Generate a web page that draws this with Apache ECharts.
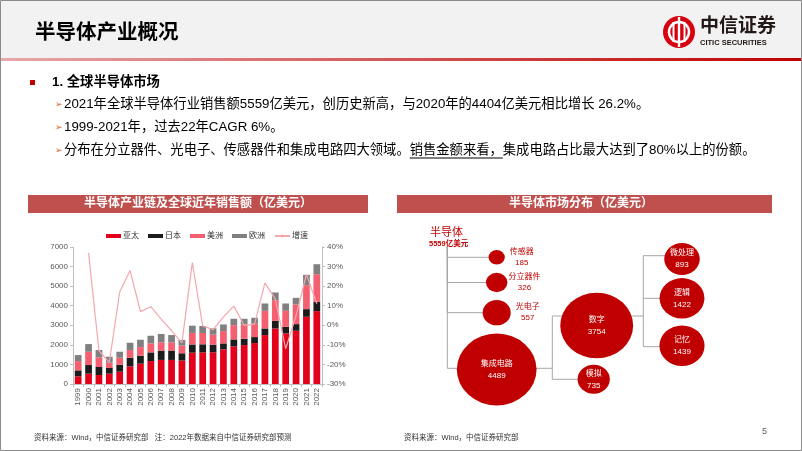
<!DOCTYPE html>
<html><head><meta charset="utf-8">
<script src="https://cdn.jsdelivr.net/npm/echarts@6/dist/echarts.min.js"></script>
<style>html,body{margin:0;padding:0;background:#fff}#c{width:802px;height:451px}</style>
</head><body><div id="c"></div>
<script>
// ---------- data: left chart ----------
const years = ['1999','2000','2001','2002','2003','2004','2005','2006','2007','2008','2009','2010','2011','2012','2013','2014','2015','2016','2017','2018','2019','2020','2021','2022'];
const asiaPacific = [390, 527, 460, 527, 630, 900, 1037, 1173, 1230, 1230, 1200, 1600, 1620, 1620, 1768, 1921, 1989, 2091, 2499, 2839, 2584, 2720, 3434, 3723];
const japan       = [306, 442, 410, 290, 357, 443, 408, 442, 476, 480, 370, 420, 408, 391, 306, 357, 323, 306, 340, 391, 340, 340, 391, 476];
const americas    = [476, 680, 490, 272, 357, 391, 442, 459, 425, 420, 390, 590, 578, 510, 629, 731, 731, 680, 901, 1054, 816, 1003, 1224, 1411];
const europe      = [306, 391, 375, 306, 306, 374, 374, 391, 425, 370, 290, 370, 357, 323, 340, 323, 289, 306, 374, 391, 374, 340, 527, 510];
const growthPct   = [null, 37, -13, -19, 17, 28, 7, 9.5, 3.2, -2.8, -9, 32, -0.3, -2.2, 4.3, 9.8, 0, 0.6, 21.7, 13.4, -12, 5, 26, 11];
const seriesNames = ['亚太', '日本', '美洲', '欧洲', '增速'];

// ---------- data: right diagram ----------
const rootName = '半导体';
const rootValue = 5559;
const segmentNames  = ['传感器', '分立器件', '光电子', '集成电路', '数字', '模拟', '微处理', '逻辑', '记忆'];
const segmentValues = [185, 326, 557, 4489, 3754, 735, 893, 1422, 1439];

// ---------- layout (positions only, not data) ----------
const nodeLayout = {
  '传感器': [496.7, 257.3], '分立器件': [496.7, 282.5], '光电子': [496.7, 312.7],
  '集成电路': [496.7, 369.5], '数字': [596.7, 325.5], '模拟': [593.7, 379.3],
  '微处理': [682, 259], '逻辑': [682, 298.3], '记忆': [682, 345.7]
};
const outsideLabel = ['传感器', '分立器件', '光电子'];
const connectors = [
  [[447.3, 247], [447.3, 257.3], [496.7, 257.3]],
  [[447.3, 247], [447.3, 282.5], [496.7, 282.5]],
  [[447.3, 247], [447.3, 312.7], [496.7, 312.7]],
  [[447.3, 247], [447.3, 368.3], [496.7, 368.3]],
  [[496.7, 368.3], [552.3, 368.3], [552.3, 316], [596.7, 316]],
  [[552.3, 368.3], [552.3, 379.3], [593.7, 379.3]],
  [[596.7, 316], [643.3, 316], [643.3, 255.7], [682, 255.7]],
  [[643.3, 298.3], [682, 298.3]],
  [[643.3, 316], [643.3, 346.7], [682, 346.7]]
];

const FONT = "'Liberation Sans', 'Noto Sans CJK SC', sans-serif";
const RED = '#c00000';
const chart = echarts.init(document.getElementById('c'), null, {renderer: 'canvas'});

function measure(txt, font) {
  const ctx = document.createElement('canvas').getContext('2d');
  ctx.font = font; return ctx.measureText(txt).width;
}
const bodyFont = '13.3px ' + FONT;
const line3a = '分布在分立器件、光电子、传感器件和集成电路四大领域。';
const line3u = '销售金额来看，';
const line3b = '集成电路占比最大达到了80%以上的份额。';
const ulStart = 64 + measure(line3a, bodyFont);
const ulEnd = ulStart + measure(line3u, bodyFont);

const bulletLines = [
  '2021年全球半导体行业销售额5559亿美元，创历史新高，与2020年的4404亿美元相比增长 26.2%。',
  '1999-2021年，过去22年CAGR 6%。',
  line3a + line3u + line3b
];
const bulletY = [104, 127, 150];

const graphics = [
  {type: 'rect', shape: {x: 0, y: 0, width: 802, height: 58}, style: {fill: '#f2f2f2'}, z: -10},
  {type: 'rect', shape: {x: 0, y: 58, width: 802, height: 3},
   style: {fill: new echarts.graphic.LinearGradient(0, 0, 1, 0, [{offset: 0, color: '#e7a9a9'}, {offset: 1, color: '#c00000'}])}, z: -9},
  {type: 'text', style: {text: '半导体产业概况', x: 35, y: 33, font: 'bold 20.5px ' + FONT, fill: '#000', textVerticalAlign: 'middle'}},
  // logo
  {type: 'circle', shape: {cx: 679, cy: 32, r: 16}, style: {fill: '#d7000f'}},
  {type: 'circle', shape: {cx: 679, cy: 32, r: 10}, style: {fill: 'none', stroke: '#fff', lineWidth: 2.5}},
  {type: 'rect', shape: {x: 677.8, y: 17, width: 2.4, height: 30}, style: {fill: '#fff'}},
  {type: 'rect', shape: {x: 672.5, y: 22, width: 2, height: 20}, style: {fill: '#fff'}},
  {type: 'rect', shape: {x: 683.5, y: 22, width: 2, height: 20}, style: {fill: '#fff'}},
  {type: 'text', style: {text: '中信证券', x: 700, y: 27, font: 'bold 19px ' + FONT, fill: '#231815', textVerticalAlign: 'middle'}},
  {type: 'text', style: {text: 'CITIC SECURITIES', x: 700, y: 43, font: 'bold 7.5px ' + FONT, fill: '#231815', textVerticalAlign: 'middle'}},
  // section heading
  {type: 'rect', shape: {x: 30, y: 80, width: 5, height: 5}, style: {fill: RED}},
  {type: 'text', style: {text: '1. 全球半导体市场', x: 52, y: 82, font: 'bold 13.3px ' + FONT, fill: '#000', textVerticalAlign: 'middle'}},
  // underline
  {type: 'line', shape: {x1: ulStart, y1: 158, x2: ulEnd, y2: 158}, style: {stroke: '#000', lineWidth: 1}},
  // panel headers
  {type: 'rect', shape: {x: 28, y: 195, width: 340, height: 18}, style: {fill: '#c0504d'}},
  {type: 'text', style: {text: '半导体产业链及全球近年销售额（亿美元）', x: 198, y: 204, font: 'bold 12px ' + FONT, fill: '#fff', textAlign: 'center', textVerticalAlign: 'middle'}},
  {type: 'rect', shape: {x: 397, y: 195, width: 375, height: 18}, style: {fill: '#c0504d'}},
  {type: 'text', style: {text: '半导体市场分布（亿美元）', x: 581, y: 204, font: 'bold 12px ' + FONT, fill: '#fff', textAlign: 'center', textVerticalAlign: 'middle'}},
  // root labels
  {type: 'text', style: {text: rootName, x: 430, y: 233, font: '11px ' + FONT, fill: RED, textVerticalAlign: 'middle'}},
  {type: 'text', style: {text: rootValue + '亿美元', x: 429, y: 244, font: 'bold 7.5px ' + FONT, fill: RED, textVerticalAlign: 'middle'}},
  // footers
  {type: 'text', style: {text: '资料来源：Wind，中信证券研究部   注：2022年数据来自中信证券研究部预测', x: 34, y: 438, font: '7.5px ' + FONT, fill: '#333', textVerticalAlign: 'middle'}},
  {type: 'text', style: {text: '资料来源：Wind，中信证券研究部', x: 404, y: 438, font: '7.5px ' + FONT, fill: '#333', textVerticalAlign: 'middle'}},
  {type: 'text', style: {text: '5', x: 762, y: 432, font: '9px ' + FONT, fill: '#595959', textVerticalAlign: 'middle'}},
  // frame
  {type: 'rect', shape: {x: 0.5, y: 0.5, width: 801, height: 450}, style: {fill: 'none', stroke: '#8c8c8c', lineWidth: 1}, z: 100}
];
bulletLines.forEach((t, i) => {
  graphics.push({type: 'text', style: {text: '➢', x: 55, y: bulletY[i] + 0.5, font: '9px DejaVu Sans', fill: '#d8602a', textVerticalAlign: 'middle'}});
  graphics.push({type: 'text', style: {text: t, x: 64, y: bulletY[i], font: bodyFont, fill: '#000', textVerticalAlign: 'middle'}});
});

const axisText = {fontSize: 8, color: '#595959', fontFamily: FONT};
const barColors = ['#e2001a', '#1c1c1c', '#f4606f', '#808080'];
const barData = [asiaPacific, japan, americas, europe];

const series = barData.map((d, i) => ({
  name: seriesNames[i], type: 'bar', stack: 'total', data: d, barWidth: '65%',
  itemStyle: {color: barColors[i]}, xAxisIndex: 0, yAxisIndex: 0
}));
series.push({
  name: seriesNames[4], type: 'line', data: growthPct, yAxisIndex: 1, xAxisIndex: 0,
  symbol: 'none', lineStyle: {color: '#f4a7ae', width: 1.2}, itemStyle: {color: '#f4a7ae'}, z: 5
});
series.push({
  type: 'lines', coordinateSystem: 'cartesian2d', xAxisIndex: 1, yAxisIndex: 2, polyline: true, silent: true,
  lineStyle: {color: '#a6a6a6', width: 1, opacity: 1}, z: 1,
  data: connectors.map(c => ({coords: c}))
});
series.push({
  type: 'scatter', xAxisIndex: 1, yAxisIndex: 2, silent: true, z: 3,
  symbolSize: v => { const w = 1.19 * Math.sqrt(v[2]); return [w, w * 0.9]; },
  itemStyle: {color: RED, opacity: 1},
  label: {show: true, position: 'inside', formatter: p => '{n|' + p.name + '}\n{n|' + p.value[2] + '}',
    rich: {n: {fontSize: 8, color: '#fff', fontFamily: FONT, lineHeight: 12, align: 'center'}}},
  data: segmentNames.map((n, i) => {
    const item = {name: n, value: [nodeLayout[n][0], nodeLayout[n][1], segmentValues[i]]};
    if (outsideLabel.includes(n)) {
      item.label = {position: 'right', distance: 2,
        rich: {n: {fontSize: 8, color: RED, fontFamily: FONT, lineHeight: 11, width: 30, align: 'center'}}};
    }
    return item;
  })
});

chart.setOption({
  animation: false,
  textStyle: {fontFamily: FONT},
  graphic: {elements: graphics},
  legend: {
    left: 101, top: 227, itemWidth: 15, itemHeight: 4, itemGap: 9,
    textStyle: {fontSize: 8, color: '#333', fontFamily: FONT, padding: [0, 0, 0, -3]},
    data: [{name: '亚太', icon: 'rect'}, {name: '日本', icon: 'rect'}, {name: '美洲', icon: 'rect'}, {name: '欧洲', icon: 'rect'}, {name: '增速'}]
  },
  grid: [
    {left: 73, right: 480, top: 247, bottom: 67},
    {left: 0, top: 0, width: 802, height: 451}
  ],
  xAxis: [
    {type: 'category', data: years, gridIndex: 0,
      axisLine: {lineStyle: {color: '#bfbfbf'}}, axisTick: {show: true, length: 3, lineStyle: {color: '#bfbfbf'}},
      axisLabel: Object.assign({rotate: 90, interval: 0, margin: 4}, axisText)},
    {type: 'value', gridIndex: 1, min: 0, max: 802, show: false}
  ],
  yAxis: [
    {type: 'value', gridIndex: 0, min: 0, max: 7000, interval: 1000,
      axisLine: {show: true, lineStyle: {color: '#bfbfbf'}}, axisTick: {show: true, length: 3, lineStyle: {color: '#bfbfbf'}},
      splitLine: {show: false}, axisLabel: Object.assign({margin: 5, formatter: v => String(v)}, axisText)},
    {type: 'value', gridIndex: 0, min: -30, max: 40, interval: 10, position: 'right',
      axisLine: {show: true, lineStyle: {color: '#bfbfbf'}}, axisTick: {show: true, length: 3, lineStyle: {color: '#bfbfbf'}},
      splitLine: {show: false}, axisLabel: Object.assign({margin: 5, formatter: '{value}%'}, axisText)},
    {type: 'value', gridIndex: 1, min: 0, max: 451, inverse: true, show: false}
  ],
  series: series
});
</script>
</body></html>
